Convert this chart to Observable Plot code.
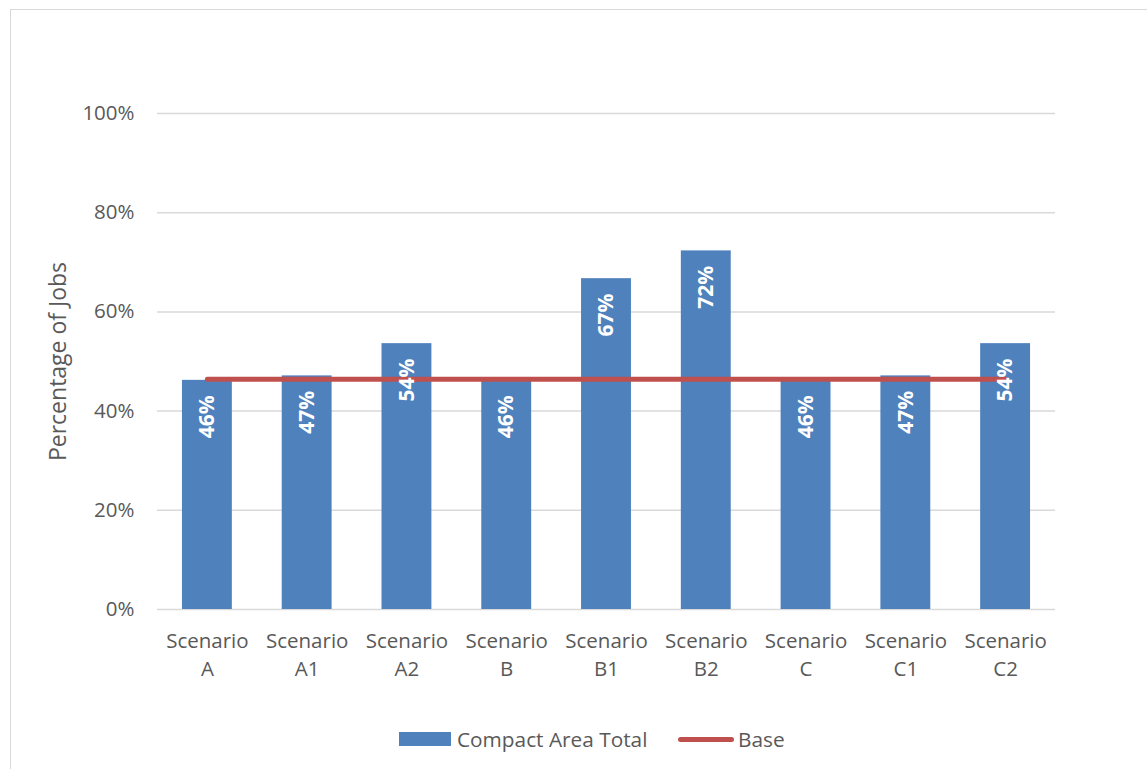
<!DOCTYPE html>
<html>
<head>
<meta charset="utf-8">
<script src="https://cdn.jsdelivr.net/npm/d3@7"></script>
<script src="https://cdn.jsdelivr.net/npm/@observablehq/plot@0.6"></script>
<style>
  html, body { margin: 0; padding: 0; background: #fff; }
  body { width: 1147px; height: 769px; position: relative; overflow: hidden; font-family: "Open Sans", sans-serif; }
  #frame { position: absolute; left: 10px; top: 9px; width: 1200px; height: 800px; border-left: 1.5px solid #d9d9d9; border-top: 1.5px solid #d9d9d9; }
  #chart { position: absolute; left: 0; top: 0; }
  #legend { position: absolute; top: 724px; left: 0; width: 1147px; height: 30px; font-size: 20.8px; color: #595959; }
  #legend .item { position: absolute; top: 0; display: flex; align-items: center; height: 30px; }
  #legend .swatch { width: 52px; height: 14px; background: #4f81bd; margin-right: 6px; }
  #legend .stroke { width: 56px; height: 5px; border-radius: 3px; background: #c0504d; margin-right: 4px; }
</style>
</head>
<body>
<div id="frame"></div>
<div id="chart"></div>
<div id="legend"></div>
<script>
// Scenario categories along the x axis
const scenarios = ["Scenario A", "Scenario A1", "Scenario A2", "Scenario B", "Scenario B1", "Scenario B2", "Scenario C", "Scenario C1", "Scenario C2"];
// Compact Area Total share of jobs (%)
const compactAreaTotal = [46.2, 47.1, 53.6, 46.2, 66.7, 72.3, 46.2, 47.1, 53.6];
// Base share of jobs (%)
const baseValues = [46.4, 46.4, 46.4, 46.4, 46.4, 46.4, 46.4, 46.4, 46.4];
// y-axis ticks
const yTicks = [0, 20, 40, 60, 80, 100];

const seriesNames = ["Compact Area Total", "Base"];
const colors = ["#4f81bd", "#c0504d"];

const rows = scenarios.map((s, i) => ({scenario: s, value: compactAreaTotal[i], base: baseValues[i]}));

const font = "Open Sans, sans-serif";
const textColor = "#595959";

const chart = Plot.plot({
  width: 1147,
  height: 769,
  marginLeft: 157,
  marginRight: 92,
  marginTop: 113,
  marginBottom: 160,
  style: {fontFamily: font, fontSize: "20px", color: textColor, background: "transparent", overflow: "visible"},
  x: {domain: scenarios, paddingInner: 0.5, paddingOuter: 0.25, round: false, label: null},
  y: {domain: [0, 100], label: null},
  marks: [
    Plot.ruleY(yTicks, {stroke: "#d9d9d9", strokeWidth: 1.5}),
    Plot.axisY({
      ticks: yTicks,
      tickSize: 0,
      tickPadding: 23,
      tickFormat: d => d + "%",
      fontSize: 20.5,
      fill: textColor,
      label: null
    }),
    Plot.axisX({
      tickSize: 0,
      tickPadding: 18,
      tickFormat: d => d.replace(" ", "\n"),
      fontSize: 20.5,
      lineHeight: 1.38,
      fill: textColor,
      label: null
    }),
    Plot.text(["Percentage of Jobs"], {
      frameAnchor: "left",
      textAnchor: "middle",
      dx: -99,
      rotate: -90,
      fontSize: 23,
      fill: textColor
    }),
    Plot.barY(rows, {x: "scenario", y: "value", fill: colors[0]}),
    Plot.line(rows, {x: "scenario", y: "base", stroke: colors[1], strokeWidth: 5, strokeLinecap: "round"}),
    Plot.text(rows, {
      x: "scenario",
      y: "value",
      text: d => Math.round(d.value) + "%",
      rotate: -90,
      textAnchor: "end",
      lineAnchor: "middle",
      dy: 15,
      fill: "white",
      fontWeight: "bold",
      fontSize: 21
    })
  ]
});
document.getElementById("chart").append(chart);

// Legend below the plot
const legend = document.getElementById("legend");
const items = [
  {name: seriesNames[0], kind: "swatch", left: 399},
  {name: seriesNames[1], kind: "stroke", left: 678}
];
for (const it of items) {
  const el = document.createElement("div");
  el.className = "item";
  el.style.left = it.left + "px";
  const mark = document.createElement("span");
  mark.className = it.kind;
  const label = document.createElement("span");
  label.textContent = it.name;
  el.append(mark, label);
  legend.append(el);
}
</script>
</body>
</html>
